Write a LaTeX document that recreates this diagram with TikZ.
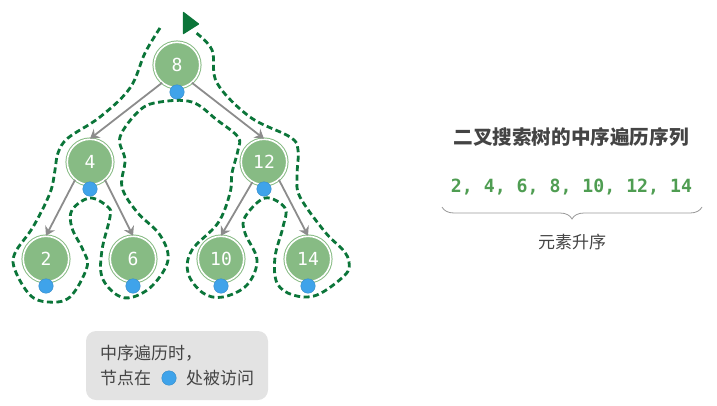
\documentclass[tikz,border=0pt]{standalone}
\usepackage{fontspec}
\setmainfont{Noto Sans CJK SC}
\newfontfamily\numfont{DejaVu Sans Mono}
\usetikzlibrary{decorations.pathreplacing, arrows.meta}

\definecolor{leafgreen}{HTML}{87BB84}
\definecolor{walkgreen}{HTML}{0B7539}
\definecolor{visitblue}{HTML}{3FA3EA}
\definecolor{inkgray}{HTML}{444444}
\definecolor{seqgreen}{HTML}{4F9D52}

\tikzset{
	treenode/.style={circle, fill=leafgreen, draw=leafgreen, double=white, double distance=1.6pt, line width=1pt, minimum size=45.5pt, inner sep=0pt, text=white, font=\numfont\fontsize{18}{20}\selectfont},
	visitdot/.style={circle, fill=visitblue, draw=visitblue!85!black, line width=0.4pt, minimum size=14.5pt, inner sep=0pt},
	treearrow/.style={draw=black!45, line width=1.8pt, -{Stealth[length=9pt, width=11pt, inset=3pt]}},
	walkline/.style={draw=walkgreen, line width=2.8pt, dash pattern=on 6pt off 3.5pt},
	plaintext/.style={inner sep=0pt, text=inkgray, font=\fontsize{17}{20}\selectfont}
}

\begin{document}
\begin{tikzpicture}[x=1pt, y=-1pt]
\useasboundingbox (0, 0) rectangle (717, 405);

\foreach \xa/\ya/\la in {177/65/8, 90/162/4, 264/162/12, 46/259/2, 133/259/6, 221/259/10, 308/259/14} {
	\node[treenode] (n\la) at (\xa, \ya) {\la};
	\node[visitdot] (d\la) at (\xa, \ya + 27) {};
}

\draw[treearrow] (n8.230) -- (n4.north);
\draw[treearrow] (n8.-50) -- (n12.north);
\draw[treearrow] (n4.230) -- (n2.north);
\draw[treearrow] (n4.-50) -- (n6.north);
\draw[treearrow] (n12.240) -- (n10.north);
\draw[treearrow] (n12.-50) -- (n14.north);

% walk around the tree
\draw[walkline] plot[smooth, tension=0.6] coordinates {
	(160,28) (145,53) (130,88) (100,117) (68,138) (58,153) (55,170) (50,193) (33,227)
	(15,253) (15,270) (30,295) (48,302) (70,297) (87,267) (83,250) (72,228) (72,210)
	(90,198) (108,207) (110,217) (102,250) (102,277) (117,295) (133,297) (153,285)
	(168,260) (160,235) (137,212) (122,187) (125,160) (120,137) (140,110) (160,102)
	(192,102) (217,120) (238,137) (238,150) (232,173) (230,193) (218,223) (192,250)
	(188,273) (203,293) (223,297) (247,285) (257,260) (245,233) (245,217) (265,198)
	(285,208) (283,227) (275,257) (277,283) (293,295) (317,295) (345,275) (349,262)
	(343,250) (325,232) (300,197) (297,177) (298,150) (290,137) (250,117) (217,83) (212,50) (195,32)
};
\fill[walkgreen, draw=walkgreen, line width=1.2pt, line join=round] (183.5,12.5) -- (198.5,24) -- (183.5,33.5) -- cycle;

% legend
\node[fill=black!11, rounded corners=10pt, minimum width=182pt, minimum height=69pt, inner sep=0pt] (legend) at (177, 365.5) {};
\node[plaintext, anchor=west] (legendtop) at (100, 353) {中序遍历时，};
\node[plaintext, anchor=west] (legendleft) at (100, 378) {节点在};
\node[visitdot] (legenddot) at (169, 378) {};
\node[plaintext, anchor=west] (legendright) at (186, 378) {处被访问};

% sequence
\node[plaintext, font=\bfseries\fontsize{19.6}{22}\selectfont] (title) at (571, 137) {二叉搜索树的中序遍历序列};
\node[inner sep=0pt, text=seqgreen, font=\numfont\bfseries\fontsize{18.2}{20}\selectfont] (seq) at (571.5, 187) {2, 4, 6, 8, 10, 12, 14};
\coordinate (braceleft) at (442, 207);
\coordinate (braceright) at (702, 207);
\draw[black!40, line width=0.8pt, decorate, decoration={brace, amplitude=12pt, aspect=0.5}] (braceright) -- (braceleft);
\node[plaintext] (ascend) at (572, 242) {元素升序};

\end{tikzpicture}
\end{document}
